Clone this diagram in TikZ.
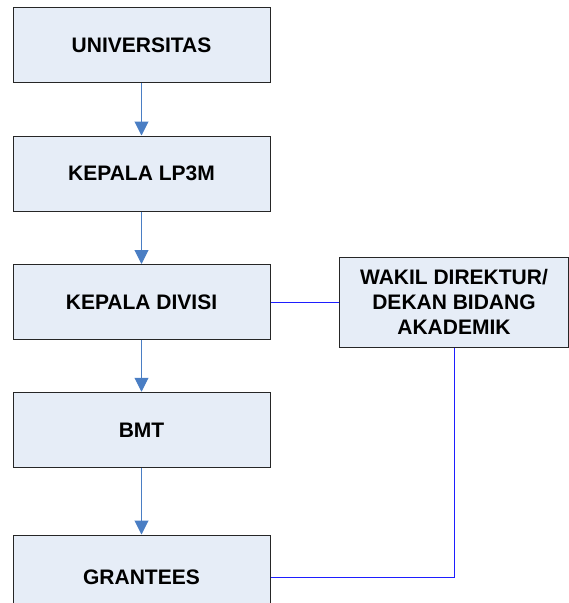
\documentclass[tikz,border=0pt]{standalone}
\usepackage{fontspec}
\setmainfont{Liberation Sans}
\usetikzlibrary{arrows.meta, positioning}

\definecolor{boxfill}{RGB}{230,237,247}
\definecolor{flowblue}{RGB}{74,126,196}
\definecolor{linkblue}{RGB}{30,30,255}

\tikzset{
  unitbox/.style={draw=black!85, fill=boxfill, line width=1pt, minimum width=257pt,
    inner sep=0pt, font=\fontsize{21}{25}\selectfont\bfseries, align=center},
  flow/.style={draw=flowblue, line width=1pt, -{Triangle[width=14pt,length=14pt]}},
  link/.style={draw=linkblue, line width=1pt}
}

\begin{document}
\begin{tikzpicture}[x=1pt, y=-1pt]
  \useasboundingbox (0,0) rectangle (569,603);
  \clip (0,0) rectangle (569,603);

  \node[unitbox, minimum height=75.5pt] (univ)   at (141.5, 45)    {UNIVERSITAS};
  \node[unitbox, minimum height=75pt]   (lp3m)   at (141.5, 173.5) {KEPALA LP3M};
  \node[unitbox, minimum height=75pt]   (divisi) at (141.5, 302)   {KEPALA DIVISI};
  \node[unitbox, minimum height=75.5pt] (bmt)    at (141.5, 430)   {BMT};
  \node[unitbox, minimum height=84pt]   (grant)  at (141.5, 577)   {GRANTEES};
  \node[unitbox, minimum width=229pt, minimum height=90pt] (wakil) at (454, 302)
    {WAKIL DIREKTUR/\\DEKAN BIDANG\\AKADEMIK};

  \draw[flow] (univ) -- (lp3m);
  \draw[flow] (lp3m) -- (divisi);
  \draw[flow] (divisi) -- (bmt);
  \draw[flow] (bmt) -- (grant);

  \draw[link] (divisi) -- (wakil);
  \draw[link] (wakil.south) |- (grant.east);
\end{tikzpicture}
\end{document}
